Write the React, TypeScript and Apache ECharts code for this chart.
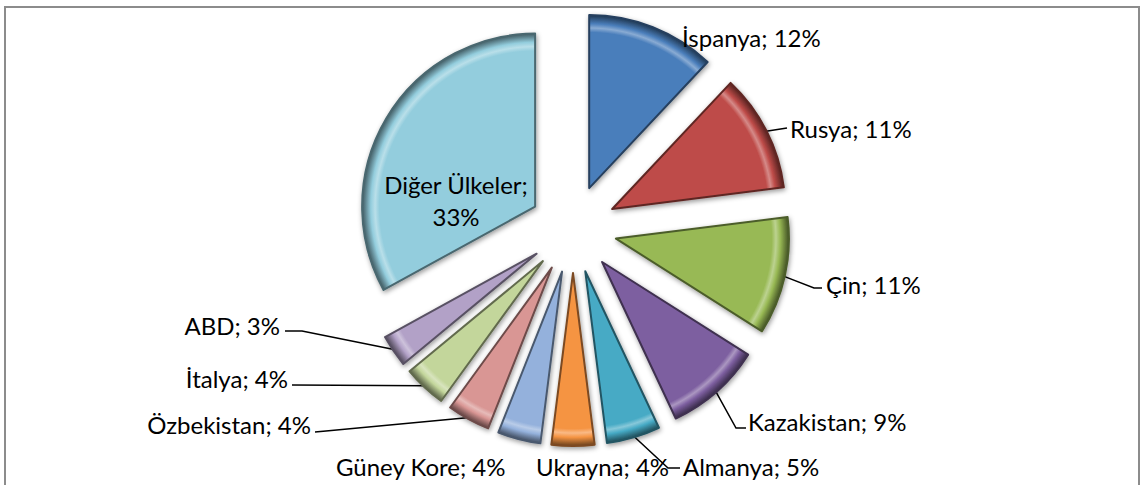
import React, { useEffect, useRef } from "react";
import * as echarts from "echarts";

const categories = [
  "İspanya",
  "Rusya",
  "Çin",
  "Kazakistan",
  "Almanya",
  "Ukrayna",
  "Güney Kore",
  "Özbekistan",
  "İtalya",
  "ABD",
  "Diğer Ülkeler",
];
const shares = [12, 11, 11, 9, 5, 4, 4, 4, 4, 3, 33];
const sliceColors = [
  "#4A7EBB",
  "#BE4B48",
  "#98B954",
  "#7D5FA0",
  "#46AAC5",
  "#F59443",
  "#94B1DC",
  "#D99694",
  "#C3D69B",
  "#B2A1C7",
  "#93CDDD",
];

// label placement (anchor point, alignment, extra guide-line points)
type Spot = { x: number; y: number; align: string; line: number[][] | null };
const labelSpots: Spot[] = [
  { x: 682, y: 37, align: "left", line: null },
  { x: 790, y: 128, align: "left", line: [[787, 128]] },
  { x: 826, y: 284, align: "left", line: [[814, 288], [822, 288]] },
  { x: 748, y: 421, align: "left", line: [[736, 428], [746, 428]] },
  { x: 683, y: 466, align: "left", line: [[668, 468], [680, 468]] },
  { x: 536, y: 466, align: "left", line: null },
  { x: 336, y: 466, align: "left", line: null },
  { x: 311, y: 424, align: "right", line: [[326, 431], [315, 432]] },
  { x: 288, y: 378, align: "right", line: [[292, 385]] },
  { x: 280, y: 325, align: "right", line: [[302, 331], [285, 331]] },
  { x: 456, y: 200, align: "center", line: null },
];

const CX = 573;
const CY = 229;
const R = 173;
const OFFSET = 44;

function shade(hex: string, f: number) {
  const n = parseInt(hex.slice(1), 16);
  const r = Math.round(((n >> 16) & 255) * f);
  const g = Math.round(((n >> 8) & 255) * f);
  const b = Math.round((n & 255) * f);
  return `rgb(${r},${g},${b})`;
}

function tint(hex: string, f: number) {
  const n = parseInt(hex.slice(1), 16);
  const c = [(n >> 16) & 255, (n >> 8) & 255, n & 255].map((v) =>
    Math.round(v + (255 - v) * f)
  );
  return `rgb(${c[0]},${c[1]},${c[2]})`;
}

function midDir(i: number) {
  const total = shares.reduce((a, b) => a + b, 0);
  let before = 0;
  for (let k = 0; k < i; k++) before += shares[k];
  const mid = ((before + shares[i] / 2) / total) * Math.PI * 2;
  return [Math.sin(mid), -Math.cos(mid)];
}

function arcMid(i: number) {
  const [dx, dy] = midDir(i);
  return [CX + dx * (OFFSET + R - 2), CY + dy * (OFFSET + R - 2)];
}

export default function App() {
  const ref = useRef<HTMLDivElement>(null);
  useEffect(() => {
    if (!ref.current) return;
    const chart = echarts.init(ref.current, null, { renderer: "svg" });
    const series = categories.map((_, si) => {
      const [dx, dy] = midDir(si);
      const cx = CX + dx * OFFSET;
      const cy = CY + dy * OFFSET;
      const isInside = si === categories.length - 1;
      const base = sliceColors[si];
      return {
        type: "pie",
        name: categories[si],
        center: [cx, cy],
        radius: [0, R],
        startAngle: 90,
        clockwise: true,
        avoidLabelOverlap: false,
        silent: true,
        emphasis: { disabled: true },
        itemStyle: {
          borderWidth: 2,
          shadowBlur: 5,
          shadowColor: "rgba(0,0,0,0.4)",
          shadowOffsetX: 1,
          shadowOffsetY: 2,
        },
        label: {
          show: true,
          color: "#000",
          fontFamily: "Lato",
          fontSize: 24,
          position: isInside ? "inside" : "outside",
          lineHeight: 32,
          formatter: (p: any) =>
            p.dataIndex === categories.length - 1
              ? `${p.name};\n${p.value}%`
              : `${p.name}; ${p.value}%`,
        },
        labelLine: {
          show: labelSpots[si].line !== null,
          length: 5,
          length2: 5,
          lineStyle: { color: "#000", width: 1.5 },
        },
        labelLayout: (p: any) => {
          const s = labelSpots[p.dataIndex];
          const out: any = {
            x: s.x,
            y: s.y,
            align: s.align,
            verticalAlign: "middle",
          };
          if (s.line) {
            out.labelLinePoints = [arcMid(p.dataIndex), ...s.line];
          }
          return out;
        },
        data: categories.map((name, i) =>
          i === si
            ? {
                name,
                value: shares[i],
                itemStyle: {
                  color: {
                    type: "radial",
                    x: cx,
                    y: cy,
                    r: R,
                    global: true,
                    colorStops: [
                      { offset: 0, color: base },
                      { offset: 0.9, color: base },
                      { offset: 0.925, color: tint(base, 0.35) },
                      { offset: 0.95, color: base },
                      { offset: 0.985, color: shade(base, 0.6) },
                      { offset: 1, color: shade(base, 0.45) },
                    ],
                  },
                  borderColor: shade(base, 0.5),
                },
              }
            : {
                name,
                value: shares[i],
                itemStyle: { opacity: 0, borderWidth: 0, shadowBlur: 0 },
                label: { show: false },
                labelLine: { show: false },
              }
        ),
      };
    });
    chart.setOption({
      animation: false,
      backgroundColor: "#ffffff",
      graphic: [
        {
          type: "rect",
          shape: { x: 5, y: 7, width: 1134, height: 490 },
          style: { fill: "none", stroke: "#8c8c8c", lineWidth: 2 },
          silent: true,
        },
      ],
      series,
    });
    return () => chart.dispose();
  }, []);
  return (
    <div
      ref={ref}
      style={{ position: "absolute", left: 0, top: 0, width: 1147, height: 485 }}
    />
  );
}
